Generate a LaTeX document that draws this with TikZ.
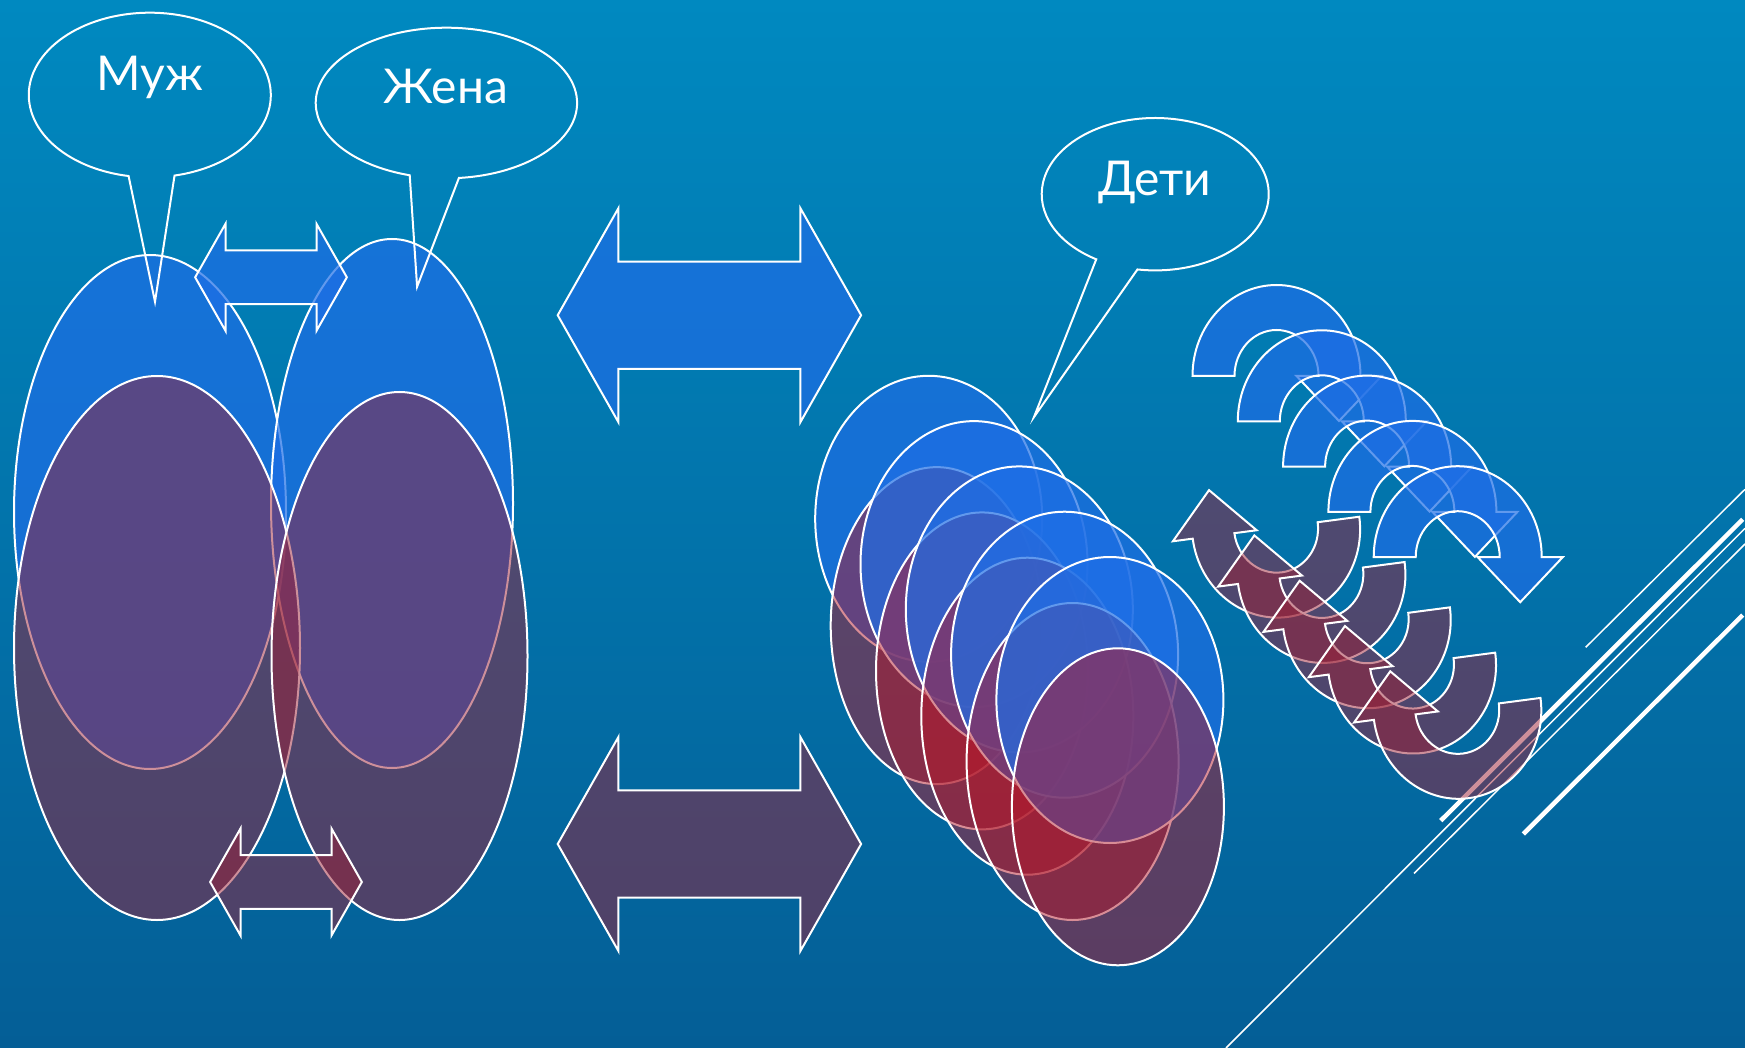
\documentclass[tikz,border=0pt]{standalone}
\usepackage{fontspec}
\setmainfont{Lato}

\definecolor{bgtop}{RGB}{0,137,192}
\definecolor{bgbot}{RGB}{4,94,150}
\definecolor{shapeblue}{RGB}{30,110,230}
\definecolor{shapegray}{RGB}{156,33,55}
\definecolor{shapered}{RGB}{178,26,44}

\tikzset{
  blueshape/.style={draw=white, line width=2pt, fill=shapeblue, fill opacity=0.7},
  grayshape/.style={draw=white, line width=2pt, fill=shapegray, fill opacity=0.5},
  redshape/.style={draw=white, line width=2pt, fill=shapered, fill opacity=0.5},
  callout/.style={draw=white, line width=2pt},
  calltext/.style={text=white, font=\fontsize{48}{52}\selectfont, inner sep=0pt, anchor=base},
  deco/.style={draw=white, line width=1.5pt},
  decothick/.style={draw=white, line width=4.5pt}
}

\begin{document}
\begin{tikzpicture}[x=1pt, y=-1pt]
    \useasboundingbox (0,0) rectangle (1745,1048);
    \shade[top color=bgtop, bottom color=bgbot] (0,0) rectangle (1745,1048);

    \draw[deco] (1226,1048) -- (1745,528.3);
    \draw[deco] (1414,873.5) -- (1745,544);
    \draw[deco] (1585.7,647.3) -- (1745,489.3);
    \draw[decothick] (1440.7,820.7) -- (1742.7,519.3);
    \draw[decothick] (1523.3,834) -- (1742.7,615);

    \draw[blueshape] (150,512) ellipse[x radius=136, y radius=257];
    \draw[blueshape] (392,503.5) ellipse[x radius=121, y radius=264.5];
    \draw[grayshape] (157,648) ellipse[x radius=143, y radius=272];
    \draw[grayshape] (399.5,656) ellipse[x radius=128, y radius=264];

    \foreach \style/\cx/\cy/\s in {blueshape/271/277.3/0.5, grayshape/286/882/0.5,
                                   blueshape/709.4/315.2/1, grayshape/709.4/844/1}
      \draw[\style, shift={(\cx,\cy)}, scale=\s] (-151.7,0) -- (-91,-107) -- (-91,-53.6)
        -- (91,-53.6) -- (91,-107) -- (151.7,0) -- (91,107) -- (91,53.6)
        -- (-91,53.6) -- (-91,107) -- cycle;

    \foreach \i in {0,...,4}{
      \draw[blueshape] (928.7+45.3*\i,518.8+45.3*\i) ellipse[x radius=113.5, y radius=143];
      \draw[redshape] (936.7+45.3*\i,625.6+45.3*\i) ellipse[x radius=106, y radius=158.5];
    }

    \foreach \i in {0,...,4}
      \draw[blueshape, shift={(1276.5+45.3*\i,376+45.3*\i)}]
        (-84,0) arc[start angle=180, end angle=360, x radius=84, y radius=91]
        -- (105,0) -- (62.5,45) -- (20,0) -- (42,0)
        arc[start angle=0, end angle=-180, x radius=42, y radius=46] -- cycle;

    \foreach \i in {0,...,4}
      \draw[grayshape, shift={(1276+45.3*\i,527.7+45.3*\i)}, rotate=7.5]
        (-84,0) arc[start angle=180, end angle=0, x radius=84, y radius=90]
        -- (42,0) arc[start angle=0, end angle=180, x radius=42, y radius=45]
        -- (-19.5,0) -- (-61.5,-46) -- (-104,0) -- cycle;

    \coordinate (muzC) at (149.8,95);
    \coordinate (zhenaC) at (446.4,103);
    \coordinate (detiC) at (1155.2,194.2);
    \draw[callout] ([shift={(78.2:121 and 82.3)}]muzC)
      arc[start angle=78.2, end angle=-259.9, x radius=121, y radius=82.3] -- (155,301.7) -- cycle;
    \draw[callout] ([shift={(84.5:130.7 and 75.3)}]zhenaC)
      arc[start angle=84.5, end angle=-253.7, x radius=130.7, y radius=75.3] -- (417.1,286.7) -- cycle;
    \draw[callout] ([shift={(99:113.5 and 76.2)}]detiC)
      arc[start angle=99, end angle=-238.7, x radius=113.5, y radius=76.2] -- (1034,417) -- cycle;

    \node[calltext] (muz) at (150,90.7) {Муж};
    \node[calltext] (zhena) at (445.8,103.3) {Жена};
    \node[calltext] (deti) at (1154.8,196) {Дети};
\end{tikzpicture}
\end{document}
